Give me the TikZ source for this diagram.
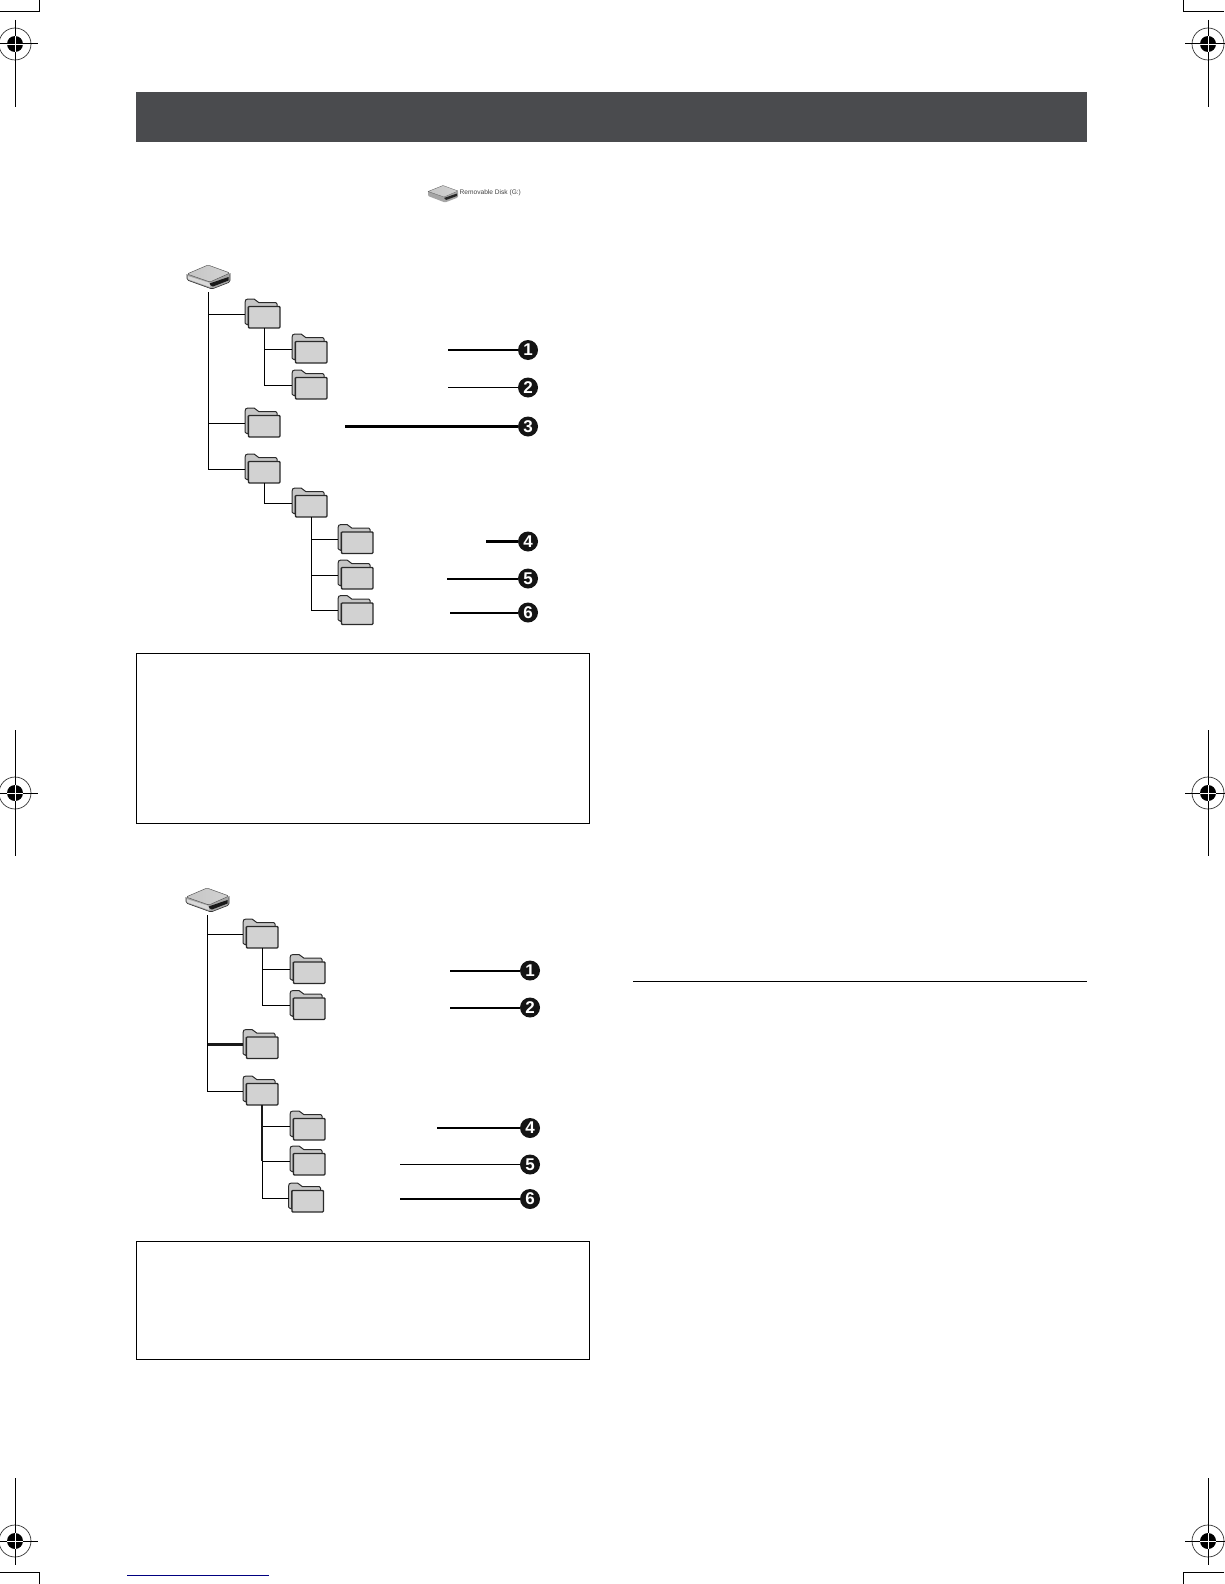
\documentclass[tikz,border=0pt]{standalone}
\usepackage{fontspec}
\setmainfont{Liberation Sans}
\definecolor{banner}{HTML}{4A4B4E}
\definecolor{folderback}{HTML}{C6C6C6}
\definecolor{folderfront}{HTML}{D2D2D2}
\definecolor{folderline}{HTML}{2A2A2A}
\tikzset{
  conn/.style={line width=1pt,black},
  connthick/.style={line width=2.2pt,black!90},
  leader/.style={line width=1.3pt,black},
  leaderthick/.style={line width=2pt,black},
  leaderheavy/.style={line width=2.5pt,black},
  numdot/.style={circle,fill=black!92,draw=none,minimum size=20pt,inner sep=0pt,text=white,font=\bfseries\fontsize{17}{17}\selectfont},
  note/.style={draw=black,line width=0.9pt,fill=white},
  crop/.style={line width=1pt,black},
  pics/folder/.style={code={
    \draw[folderline,fill=folderback,line width=1pt,line join=round]
      (3,26) -- (1,25) -- (0,24) -- (0,3.5) .. controls (0,1) and (1,0) .. (3,0)
      -- (9,0) .. controls (11,0) and (12,3.7) .. (14,3.7) -- (31,3.7) -- (32,5) -- (32,8) -- (3,8) -- cycle;
    \draw[folderline,fill=folderfront,line width=1.3pt,rounded corners=1pt]
      (3.4,7.4) rectangle (35,29);
    \coordinate (-l) at (0,15);
    \coordinate (-b) at (19,29);
  }},
  pics/drive/.style={code={
    \fill[gray!70,rounded corners=1.5pt] (0,9) -- (0,15) -- (25,24) -- (43,17) -- (43,8) -- (23,16) -- cycle;
    \fill[gray!30] (0.5,11) -- (0.5,14) -- (23,22) -- (23,18) -- cycle;
    \fill[black!90] (22.5,18.5) -- (41.5,12) -- (41.5,15.5) -- (26,21.5) .. controls (24,21) and (23,20) .. (22.5,18.5) -- cycle;
    \shade[left color=gray!45,middle color=gray!8,right color=gray!35,draw=gray!70!black,line width=.5pt,line join=round,rounded corners=1.5pt]
      (0,9) -- (21,0) -- (43,8) -- (23,17) -- cycle;
    \draw[gray!40!black,line width=.6pt,rounded corners=1.5pt] (0,9) -- (0,15) -- (25,24) -- (43,17) -- (43,8);
    \coordinate (-s) at (21.5,27);
  }},
  pics/smalldrive/.style={code={
    \fill[gray!70,rounded corners=1pt] (0,6) -- (0,11) -- (17,17.5) -- (30,12.5) -- (30,6) -- (16,12) -- cycle;
    \fill[black!85] (16,13) -- (29,8.5) -- (29,11) -- (18,15) -- cycle;
    \shade[left color=gray!45,middle color=gray!10,right color=gray!35,draw=gray!70!black,line width=.3pt,line join=round]
      (0,6.5) -- (15,0.5) -- (30,6) -- (16,12) -- cycle;
  }},
  pics/regmark/.style 2 args={code={
    \fill[black] (0,0) circle (8);
    \draw[black!80,line width=.7pt] (0,0) circle (16);
    \draw[crop] (0,-#1) -- (0,#2);
    \draw[crop] (-23,0) -- (23,0);
    \draw[white,line width=.8pt] (-8,0) -- (8,0) (0,-8) -- (0,8);
  }},
}
\begin{document}
\begin{tikzpicture}[x=1pt,y=-1pt]
\useasboundingbox (0,0) rectangle (1224,1584);
% page furniture
\node[fill=banner,draw=none,minimum width=951pt,minimum height=50pt,inner sep=0pt] (header) at (611.5,117) {};
\pic (rm1) at (15,44) {regmark={24}{63}};
\pic (rm2) at (1208,44) {regmark={24}{63}};
\pic (rm3) at (15,793) {regmark={63}{63}};
\pic (rm4) at (1208,793) {regmark={63}{63}};
\pic (rm5) at (15,1541) {regmark={63}{24}};
\pic (rm6) at (1208,1541) {regmark={63}{24}};
\draw[crop] (0,12) -- (39.5,12) -- (39.5,0);
\draw[crop] (1224,12) -- (1183.5,12) -- (1183.5,0);
\draw[crop] (0,1572) -- (39.5,1572) -- (39.5,1584);
\draw[crop] (1224,1572) -- (1183.5,1572) -- (1183.5,1584);
\draw[line width=1pt,black] (633,981) -- (1087,981);
\draw[line width=1pt,blue!50!black] (127,1575) -- (269,1575);
% small icon
\pic (sd) at (428,185) {smalldrive};
\node[anchor=west,inner sep=0pt,text=black!75,font=\fontsize{6.6}{7}\selectfont] (sdlabel) at (459.5,193) {Removable Disk (G:)};
% first tree
\pic (a) at (187,265) {drive};
\pic (af1) at (245,299) {folder};
\pic (af1a) at (292,334) {folder};
\pic (af1b) at (292,370) {folder};
\pic (af2) at (245,408) {folder};
\pic (af3) at (245,454) {folder};
\pic (af3a) at (292,488) {folder};
\pic (af3x) at (338,524.5) {folder};
\pic (af3y) at (338,560) {folder};
\pic (af3z) at (338,595.5) {folder};
\draw[conn] (a-s) |- (af1-l);
\draw[conn] (a-s) |- (af2-l);
\draw[conn] (a-s) |- (af3-l);
\draw[conn] (af1-b) |- (af1a-l);
\draw[conn] (af1-b) |- (af1b-l);
\draw[conn] (af3-b) |- (af3a-l);
\draw[conn] (af3a-b) |- (af3x-l);
\draw[conn] (af3a-b) |- (af3y-l);
\draw[conn] (af3a-b) |- (af3z-l);
\node[numdot] (an1) at (528,350) {1};
\node[numdot] (an2) at (528,387.5) {2};
\node[numdot] (an3) at (528,426.5) {3};
\node[numdot] (an4) at (528,541.5) {4};
\node[numdot] (an5) at (528,578.5) {5};
\node[numdot] (an6) at (528,612.5) {6};
\coordinate (as1) at (448,350);
\coordinate (as2) at (448,387.5);
\coordinate (as3) at (345,426.5);
\coordinate (as4) at (486,541.5);
\coordinate (as5) at (447,578.5);
\coordinate (as6) at (450,612.5);
\draw[leader] (as1) -- (an1);
\draw[leader] (as2) -- (an2);
\draw[leaderheavy] (as3) -- (an3);
\draw[leaderheavy] (as4) -- (an4);
\draw[leaderthick] (as5) -- (an5);
\draw[leaderthick] (as6) -- (an6);
\node[note,anchor=north west,minimum width=453pt,minimum height=170.5pt,inner sep=0pt] (box1) at (136,652.5) {};
% second tree
\pic (b) at (186,888) {drive};
\pic (bf1) at (243,919) {folder};
\pic (bf1a) at (290,954.5) {folder};
\pic (bf1b) at (290,990.5) {folder};
\pic (bf2) at (243,1029.5) {folder};
\pic (bf3) at (243,1076) {folder};
\pic (bfx) at (290,1111) {folder};
\pic (bfy) at (290,1146) {folder};
\pic (bfz) at (288.5,1183) {folder};
\draw[conn] (b-s) |- (bf1-l);
\draw[conn] (b-s) |- (bf3-l);
\draw[connthick] (b-s |- bf2-l) -- (bf2-l);
\draw[conn] (bf1-b) |- (bf1a-l);
\draw[conn] (bf1-b) |- (bf1b-l);
\draw[conn] (bf3-b) |- (bfx-l);
\draw[conn] (bf3-b) |- (bfy-l);
\draw[conn] (bf3-b) |- (bfz-l);
\draw[connthick] (bf3-b) -- (bf3-b |- bfy-l);
\node[numdot] (bn1) at (530,970.5) {1};
\node[numdot] (bn2) at (530,1007.5) {2};
\node[numdot] (bn4) at (530,1128) {4};
\node[numdot] (bn5) at (530,1164.5) {5};
\node[numdot] (bn6) at (530,1199) {6};
\coordinate (bs1) at (450,970.5);
\coordinate (bs2) at (450,1007.5);
\coordinate (bs4) at (437,1128);
\coordinate (bs5) at (400,1164.5);
\coordinate (bs6) at (400,1199);
\draw[leaderthick] (bs1) -- (bn1);
\draw[leaderthick] (bs2) -- (bn2);
\draw[leaderthick] (bs4) -- (bn4);
\draw[leader] (bs5) -- (bn5);
\draw[leader] (bs6) -- (bn6);
\node[note,anchor=north west,minimum width=453pt,minimum height=117.5pt,inner sep=0pt] (box2) at (136,1241) {};
\end{tikzpicture}
\end{document}
